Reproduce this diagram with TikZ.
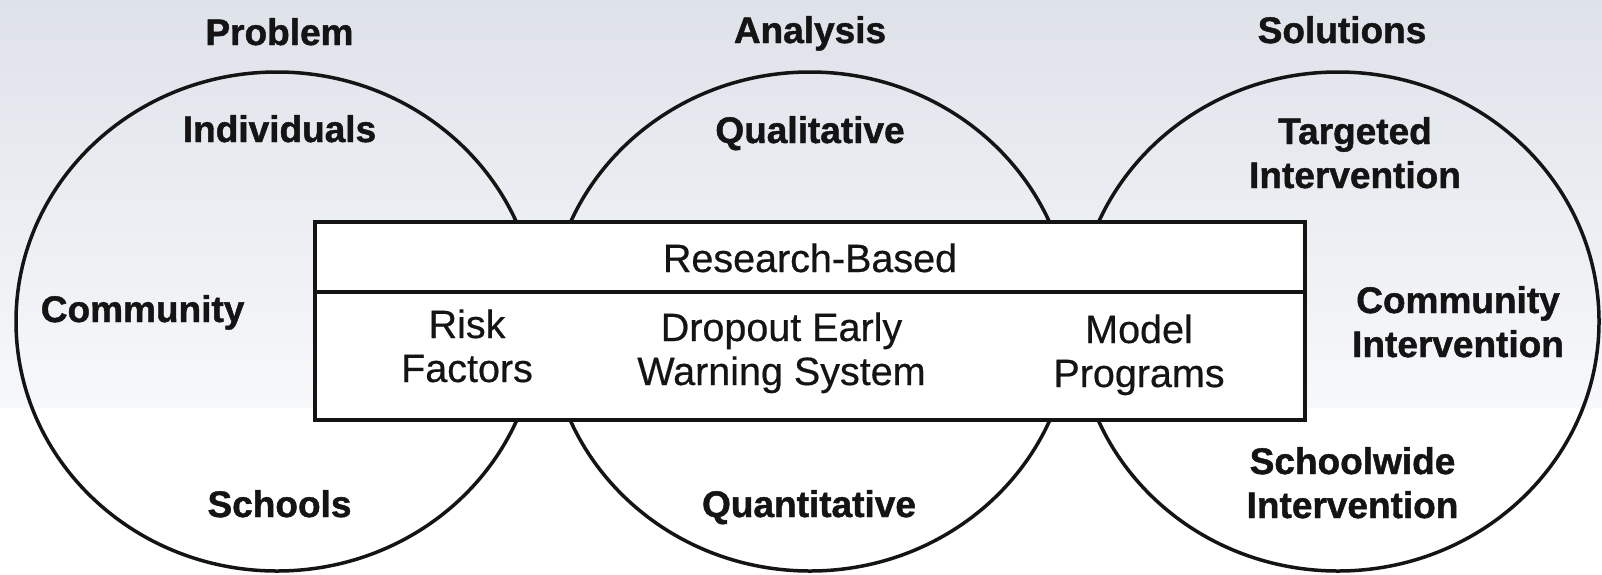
\documentclass[tikz,border=0pt]{standalone}
\usepackage{fontspec}
\setmainfont{Liberation Sans}
\newfontfamily\heavyfont{Liberation Sans Bold}[FakeBold=1.2]
\newfontfamily\boxfont{Liberation Sans}[FakeBold=0.5]
\usetikzlibrary{shapes.geometric}
\definecolor{bgtop}{RGB}{222,226,233}
\definecolor{bgmid}{RGB}{247,248,250}
\definecolor{ink}{RGB}{20,20,20}
\begin{document}
\begin{tikzpicture}[x=1pt,y=-1pt,
  lbl/.style={font=\fontsize{37}{44}\selectfont\heavyfont, anchor=base, inner sep=0pt, text=ink, align=center},
  boxtxt/.style={font=\fontsize{39.5}{44}\selectfont\boxfont, anchor=base, inner sep=0pt, text=ink, align=center},
  ring/.style={ellipse, draw=ink, line width=3.5pt, minimum width=522pt, minimum height=499pt, inner sep=0pt},
  panel/.style={rectangle, draw=ink, fill=white, line width=3.5pt, minimum width=990pt, inner sep=0pt}]
\useasboundingbox (0,0) rectangle (1602,574);
\fill[white] (0,0) rectangle (1602,574);
\shade[top color=bgtop, bottom color=bgmid] (0,0) rectangle (1602,407);
% circles
\node[ring] (problem) at (277,321.5) {};
\node[ring] (analysis) at (810,321.5) {};
\node[ring] (solutions) at (1338,321.5) {};
% central panel
\node[panel, minimum height=70pt] (rb) at (810,257) {};
\node[panel, minimum height=128pt] (tools) at (810,356) {};
% titles
\node[lbl] (t1) at (279.5,45) {Problem};
\node[lbl] (t2) at (810,43) {Analysis};
\node[lbl] (t3) at (1342,43) {Solutions};
% problem circle
\node[lbl] (p1) at (279.5,142) {Individuals};
\node[lbl] (p2) at (142.6,322) {Community};
\node[lbl] (p3) at (279.5,517) {Schools};
% analysis circle
\node[lbl] (a1) at (810,143) {Qualitative};
\node[lbl] (a2) at (809,517) {Quantitative};
% solutions circle (base anchor = last line)
\node[lbl] (s1) at (1355,188) {Targeted\\Intervention};
\node[lbl] (s2) at (1458,357) {Community\\Intervention};
\node[lbl] (s3) at (1352.5,518) {Schoolwide\\Intervention};
% panel texts
\node[boxtxt] (b0) at (810,272) {Research-Based};
\node[boxtxt] (b1) at (467,382) {Risk\\Factors};
\node[boxtxt] (b2) at (781.5,385) {Dropout Early\\Warning System};
\node[boxtxt] (b3) at (1139,387) {Model\\Programs};
\end{tikzpicture}
\end{document}
